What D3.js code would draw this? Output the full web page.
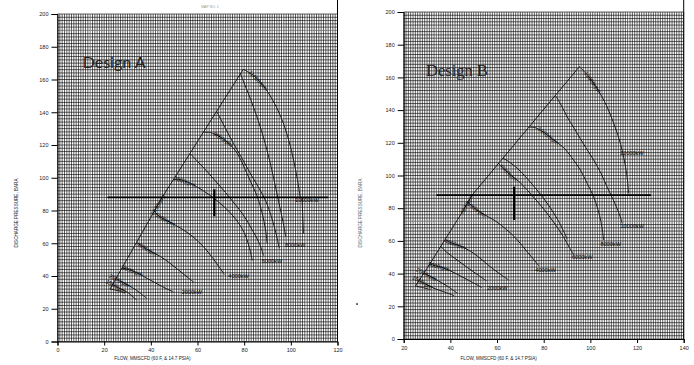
<!DOCTYPE html>
<html><head><meta charset="utf-8">
<script src="https://cdn.jsdelivr.net/npm/d3@7/dist/d3.min.js"></script>
<style>body{margin:0;background:#fff}svg{display:block}</style>
</head><body>
<svg id="c" width="694" height="365"></svg>
<script>
// ---------- data ----------
const yTicks = [0,20,40,60,80,100,120,140,160,180,200];
const xTicksA = [0,20,40,60,80,100,120];
const xTicksB = [20,40,60,80,100,120,140];

const surgeA = [[22.5,32],[26,40.8],[30,50.8],[33.9,60.6],[37.5,69.6],[41,78.4],[45,88.4],[51.1,102.1],[56.8,114.9],[62.5,127.8],[68.2,140.6],[74,153.6],[79.6,166.2]];
const linesA = [
  [[79.6,166.2],[84,162.5],[88,156.5],[92,148],[95.5,138],[98.5,126],[101,112],[102.8,99],[104,88]],
  [[104.8,88],[105.4,66]],
  [[78.4,163.5],[80.5,156],[83,147],[86,135],[89,121],[91.5,107],[93.5,94],[95.3,82],[96.8,72],[97.8,64]],
  [[68.2,140.6],[71.5,131.5],[75.4,121],[79,112],[82.5,103],[86,94.5],[89.2,86],[91.5,77],[93.3,68],[94.6,60],[95.1,56.9]],
  [[62.5,127.8],[65.5,127.6],[69,125.5],[73,121.5],[77,115],[80,106.5],[82.8,97.5],[85.5,89],[87.6,79],[89.2,68],[89.8,60]],
  [[56.8,114.9],[60,110],[64,104],[68,97.5],[72,91],[76,84],[80,76.5],[83.5,68],[86.5,60],[88.3,52.5]],
  [[49.6,98.7],[52,99],[57,96.5],[62,92.5],[67,87.5],[72,81.5],[76.5,74.5],[80,66.5],[82.2,57.5],[83.5,49.5]],
  [[41.5,79.6],[44,76],[48,73],[53,69],[58,64],[62.5,58],[66.5,51],[69.5,45],[71.5,41]],
  [[33.9,60.6],[36.5,58],[40,55],[44,52],[48,48],[52,43.5],[55.5,39.5],[58.5,36]],
  [[27.6,44.8],[30,44.2],[34,42],[38.5,38.5],[43,35],[47,32],[49.6,30.4]],
  [[25,38.3],[28,36],[32,33],[35.5,29.5],[38.2,26.4]],
  [[23.6,34.8],[26.5,32.5],[30,30],[33.9,25.3]],
  [[22.5,32],[26,31],[29,29.5]]
];
const speedLabelsA = [["11000rpm",0,1],["9000rpm",4,2],["7000rpm",6,1],["5000rpm",7,1],["4000rpm",8,1],["3000rpm",9,1],["2000rpm",10,0],["1500rpm",11,0],["6000rpm",-1,5]];
const powerLabelsA = [["10000kW",101.8,86.2],["8000kW",97.5,58.8],["6000kW",87.5,49.2],["4000kW",73.2,40],["2000kW",53.2,30]];
const opLineA = [[21.4,88],[116.1,88]];
const markerA = [[67.2,93],[67.2,76.5]];

const surgeB = [[25,32.4],[30,43.2],[35,54.6],[40,66],[45,77.4],[49.3,88],[55,97.7],[61,108],[67,118.2],[73.6,129.5],[79,138.8],[85,149],[90,157.5],[95.3,166.6]];
const linesB = [
  [[95.3,166.6],[99,161],[103,153],[107,142.5],[110.5,130],[113,119],[115,106],[116,96],[116.4,89]],
  [[85,149],[87.5,143],[90,136],[93,129],[95.7,122.5],[98.5,116],[101.4,109.5],[104.5,101.5],[107.1,93.2],[109.5,86],[111.4,80],[113,74],[113.6,70.7]],
  [[73.6,129.5],[76,129.4],[80,126.5],[84,122],[88.6,117],[92,111],[95.7,103.4],[98.7,95],[101.4,87],[103.3,79],[104.5,72],[105.2,66],[105.7,60.5]],
  [[62.5,110.6],[65,108.5],[69,104],[73,98],[77.5,90.5],[82,82],[86,73],[89,64.5],[90,61]],
  [[60.7,107.3],[63,104],[66.5,99.5],[70,95.5],[75.5,87],[80,79.5],[84.5,71],[88.4,62.6],[91,56],[92.9,51.4]],
  [[47.5,83.9],[49.5,81],[52.8,77.5],[56.5,74.5],[60,71.5],[64,67],[67.1,63],[70,58.5],[72.8,53.5],[75.5,49],[77.9,44.7]],
  [[37.6,61.2],[40,59],[44,57],[47,55],[50,52.4],[53.5,48.5],[57.1,44.2],[61,40],[65,36.1]],
  [[35.7,56.9],[38.5,53],[42.9,48.3],[47.5,43.5],[52,39],[55.5,35.5]],
  [[31,46.1],[33,45],[37,43.5],[41,41],[45,38],[49,35],[53.5,31.5]],
  [[28.5,40.4],[31,38.5],[35,35.5],[39,32],[42.9,28.1]],
  [[26.5,35.8],[29.5,33.5],[33,31],[37,29],[41.6,26.5]],
  [[25,32.4],[28,31.5],[31.5,30.2]]
];
const speedLabelsB = [["12000rpm",0,1],["10000rpm",2,2],["7000rpm",4,1],["5000rpm",5,1],["4000rpm",6,1],["3000rpm",8,1],["2000rpm",9,0],["1500rpm",10,0],["6000rpm",-1,4]];
const powerLabelsB = [["12000kW",112.7,113.8],["10000kW",112.9,69],["8000kW",104.3,58.3],["6000kW",92.1,50.2],["4000kW",76.4,42.2],["2000kW",55.7,31.2]];
const opLineB = [[34,88],[126,88]];
const markerB = [[67.3,93.2],[67.3,72.8]];

// faded stripes of the scanned paper (x values, y values)
const fadeXA = [14, 96.5, 106.5];
const fadeYA = [190];
const fadeXB = [34.3, 88.6, 116.4];
const fadeYB = [190, 72];

const xTitle = "FLOW, MMSCFD (60 F, & 14.7 PSIA)";
const yTitle = "DISCHARGE PRESSURE, BARA";

// ---------- drawing ----------
const svg = d3.select('#c');

function panel(cfg) {
  const x = d3.scaleLinear().domain(cfg.xDomain).range(cfg.xRange);
  const y = d3.scaleLinear().domain([0,200]).range(cfg.yRange);
  const g = svg.append('g');
  const [x0,x1] = cfg.xDomain;
  // grid
  const grid = g.append('g').attr('stroke','#000').attr('stroke-width',0.62);
  d3.range(x0, x1 + 0.001, 1).forEach(v => {
    grid.append('line').attr('x1',x(v)).attr('x2',x(v)).attr('y1',y(0)).attr('y2',y(200));
  });
  d3.range(0, 200.001, 2).forEach(v => {
    grid.append('line').attr('x1',x(x0)).attr('x2',x(x1)).attr('y1',y(v)).attr('y2',y(v));
  });
  const fade = g.append('g').attr('stroke','#fff').attr('stroke-width',1).attr('stroke-opacity',0.3);
  cfg.fadeX.forEach(v => fade.append('line').attr('x1',x(v)).attr('x2',x(v)).attr('y1',y(0)).attr('y2',y(200)));
  cfg.fadeY.forEach(v => fade.append('line').attr('x1',x(x0)).attr('x2',x(x1)).attr('y1',y(v)).attr('y2',y(v)));
  // right border extends to top
  g.append('line').attr('x1',x(x1)).attr('x2',x(x1)).attr('y1',0).attr('y2',y(0)).attr('stroke','#000').attr('stroke-width',1);

  // axes
  const ax = g.append('g').attr('transform',`translate(0,${y(0)})`)
    .call(d3.axisBottom(x).tickValues(cfg.xTicks).tickSize(4).tickPadding(3).tickFormat(d3.format('d')));
  const ay = g.append('g').attr('transform',`translate(${x(x0)},0)`)
    .call(d3.axisLeft(y).tickValues(yTicks).tickSize(6).tickPadding(3).tickFormat(d3.format('d')));
  [ax,ay].forEach(a => {
    a.selectAll('text').attr('font-family','Liberation Sans, Arial, sans-serif').attr('font-size',5.5).attr('fill','#222');
    a.selectAll('line,path').attr('stroke','#000');
  });

  const line = d3.line().x(d => x(d[0])).y(d => y(d[1])).curve(d3.curveCatmullRom.alpha(0.5));
  const curves = g.append('g').attr('fill','none').attr('stroke','#1a1a1a').attr('stroke-width',1);
  curves.append('path').attr('d', d3.line().x(d=>x(d[0])).y(d=>y(d[1]))(cfg.surge));
  cfg.lines.forEach(l => curves.append('path').attr('d', line(l)));

  // speed labels along curves
  const lab = g.append('g').attr('font-family','Liberation Sans, Arial, sans-serif').attr('font-size',5.6)
    .attr('fill','#000');
  cfg.speedLabels.forEach(([t, li, k]) => {
    const pts = li < 0 ? cfg.surge : cfg.lines[li];
    const p0 = pts[k], p1 = pts[k+1];
    const sx0 = x(p0[0]), sy0 = y(p0[1]), sx1 = x(p1[0]), sy1 = y(p1[1]);
    let a = Math.atan2(sy1 - sy0, sx1 - sx0) * 180 / Math.PI;
    if (a > 90) a -= 180; if (a < -90) a += 180;
    const mx = (sx0+sx1)/2, my = (sy0+sy1)/2;
    lab.append('text').attr('transform',`translate(${mx},${my}) rotate(${a})`)
      .attr('text-anchor','middle').attr('dy','0.35em').text(t);
  });
  cfg.powerLabels.forEach(([t, vx, vy]) => {
    lab.append('text').attr('x',x(vx)).attr('y',y(vy)).attr('dy','0.35em').text(t);
  });

  // operating line and marker
  g.append('line').attr('x1',x(cfg.opLine[0][0])).attr('x2',x(cfg.opLine[1][0]))
    .attr('y1',y(cfg.opLine[0][1])).attr('y2',y(cfg.opLine[1][1])).attr('stroke','#000').attr('stroke-width',1.8);
  g.append('line').attr('x1',x(cfg.marker[0][0])).attr('x2',x(cfg.marker[1][0]))
    .attr('y1',y(cfg.marker[0][1])).attr('y2',y(cfg.marker[1][1])).attr('stroke','#000').attr('stroke-width',2.2);

  // titles
  g.append('text').attr('x',cfg.titlePos[0]).attr('y',cfg.titlePos[1]).text(cfg.title)
    .attr('font-family',cfg.titleFont).attr('font-size',cfg.titleSize).attr('fill','#222');
  g.append('text').attr('x',(cfg.xRange[0]+cfg.xRange[1])/2 - 45).attr('y',360).attr('text-anchor','middle')
    .attr('font-family','Liberation Sans, Arial, sans-serif').attr('font-size',4.6).attr('fill','#222').text(xTitle);
  g.append('text').attr('transform',`translate(${cfg.yTitleX},213) rotate(-90)`).attr('text-anchor','middle')
    .attr('dy','0.35em').attr('font-family','Liberation Sans, Arial, sans-serif').attr('font-size',4.6)
    .attr('fill',cfg.yTitleColor).text(yTitle);
}

panel({xDomain:[0,120], xRange:[57.5,337.5], yRange:[341.5,14], xTicks:xTicksA,
  surge:surgeA, lines:linesA, speedLabels:speedLabelsA, powerLabels:powerLabelsA,
  opLine:opLineA, marker:markerA, fadeX:fadeXA, fadeY:fadeYA, title:'Design A', titlePos:[82.7,67.5],
  titleFont:'Lato, sans-serif', titleSize:16, yTitleX:16, yTitleColor:'#222'});
panel({xDomain:[20,140], xRange:[403.7,683.7], yRange:[339,12], xTicks:xTicksB,
  surge:surgeB, lines:linesB, speedLabels:speedLabelsB, powerLabels:powerLabelsB,
  opLine:opLineB, marker:markerB, fadeX:fadeXB, fadeY:fadeYB, title:'Design B', titlePos:[426,75.5],
  titleFont:'Liberation Serif, serif', titleSize:16.5, yTitleX:360.5, yTitleColor:'#666'});

// small artefacts of the original
svg.append('text').attr('x',210).attr('y',8).attr('text-anchor','middle').attr('font-family','Liberation Sans, Arial, sans-serif')
  .attr('font-size',3.5).attr('fill','#999').text('MAP NO. 1');
svg.append('rect').attr('x',356.3).attr('y',303.3).attr('width',1.5).attr('height',1.5).attr('fill','#000');
</script>
</body></html>
